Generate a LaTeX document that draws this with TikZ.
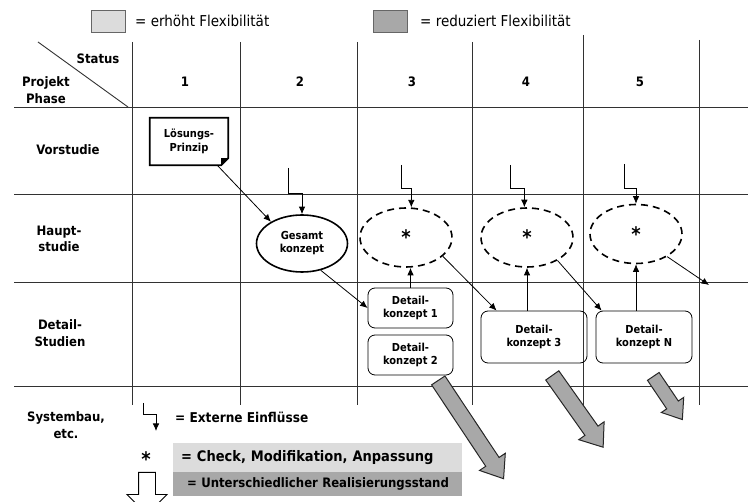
\documentclass[tikz,border=0pt]{standalone}
\usepackage{fontspec}
\setmainfont{DejaVu Sans Condensed}
\usepackage{tikz}
\usetikzlibrary{shapes.geometric, shapes.arrows, arrows.meta, calc}
\definecolor{flexlight}{RGB}{220,220,220}
\definecolor{flexdark}{RGB}{168,168,168}
\definecolor{gridline}{RGB}{50,50,50}

\begin{document}
\begin{tikzpicture}[x=1pt, y=1pt,
  gridl/.style={draw=gridline, line width=0.9pt},
  legbox/.style={draw=gray!80!black, line width=0.8pt, minimum width=34, minimum height=22, inner sep=0},
  legtxt/.style={font=\fontsize{15}{17}\selectfont, anchor=west, inner sep=0},
  rowlbl/.style={font=\fontsize{13}{16.5}\selectfont\bfseries, align=center},
  num/.style={font=\fontsize{13}{16}\selectfont\bfseries},
  lsg/.style={minimum width=78, minimum height=47, inner sep=0, font=\fontsize{11}{14}\selectfont\bfseries, align=center},
  gesamt/.style={ellipse, draw, line width=1.6pt, minimum width=91, minimum height=57, inner sep=0, font=\fontsize{11}{13}\selectfont\bfseries, align=center},
  chk/.style={ellipse, draw, line width=1.6pt, dash pattern=on 7pt off 5pt, minimum width=92, minimum height=59, inner sep=0, font=\fontsize{20}{20}\selectfont\bfseries},
  dk/.style={draw, rounded corners=7pt, line width=0.8pt, inner sep=0, font=\fontsize{11}{13}\selectfont\bfseries, align=center},
  arr/.style={-{Latex[length=7.5pt,width=6.5pt]}, line width=0.8pt},
  bigarr/.style={single arrow, draw=black!85, fill=flexdark, line width=1pt, minimum width=30, inner xsep=0, inner ysep=7.5, single arrow head extend=7.5, single arrow tip angle=75, anchor=tail},
  keybox/.style={minimum width=289, inner ysep=0, anchor=north west, font=\fontsize{13}{15}\selectfont\bfseries, text width=273, align=left}
]
\useasboundingbox (0,0) rectangle (748,-502);

% Legend top
\node[legbox, fill=flexlight] (LB1) at (108,-21) {};
\node[legtxt] (LT1) at (135,-21) {= erhöht Flexibilität};
\node[legbox, fill=flexdark] (LB2) at (390,-21) {};
\node[legtxt] (LT2) at (420,-21) {= reduziert Flexibilität};

% Grid
\foreach \gx/\gt in {132/42, 240/42, 357/42, 472/42, 583/35, 699/40}
  \draw[gridl] (\gx,-\gt) -- (\gx,-405);
\foreach \gy in {107, 194, 282, 386}
  \draw[gridl] (14,-\gy) -- (748,-\gy);
\draw[gridl] (38,-42) -- (128,-107);

% Header
\node[num] (ST) at (98,-59) {Status};
\node[rowlbl] (PP) at (46,-90) {Projekt\\Phase};
\foreach \n/\cx in {1/185, 2/300, 3/412, 4/526, 5/640}
  \node[num] (N\n) at (\cx,-82) {\n};

% Row labels
\node[rowlbl] (RV) at (68,-150) {Vorstudie};
\node[rowlbl] (RH) at (59,-239) {Haupt-\\studie};
\node[rowlbl] (RD) at (60,-333) {Detail-\\Studien};
\node[rowlbl] (RS) at (66,-425) {Systembau,\\etc.};

% Concepts
\node[lsg] (LP) at (189,-141.5) {Lösungs-\\Prinzip};
\draw[line width=1.8pt] (LP.north west) -- (LP.north east) -- ($(LP.south east)+(0,7)$)
  -- ($(LP.south east)+(-7,0)$) -- (LP.south west) -- cycle;
\fill ($(LP.south east)+(0,7)$) -- ($(LP.south east)+(-7,0)$) -- ($(LP.south east)+(-7,7)$) -- cycle;
\node[gesamt] (GK) at (302,-243.5) {Gesamt\\konzept};
\node[chk] (D1) at (406,-237.5) {*};
\node[chk] (D2) at (527,-237.5) {*};
\node[chk] (D3) at (636,-234) {*};
\node[dk, minimum width=85, minimum height=40] (DK1) at (410.5,-308) {Detail-\\konzept 1};
\node[dk, minimum width=85, minimum height=40] (DK2) at (410.5,-355) {Detail-\\konzept 2};
\node[dk, minimum width=106, minimum height=52] (DK3) at (534,-337) {Detail-\\konzept 3};
\node[dk, minimum width=96, minimum height=52] (DKN) at (644,-337) {Detail-\\konzept N};

% External influences
\coordinate (X1) at (288,-168);
\coordinate (X2) at (401,-165);
\coordinate (X3) at (510,-165);
\coordinate (X4) at (624,-164);
\draw[arr] (X1) -- ++(0,-25) -| (GK.north);
\draw[arr] (X2) -- ++(0,-23) -| (D1.80);
\draw[arr] (X3) -- ++(0,-23) -| (D2.95);
\draw[arr] (X4) -- ++(0,-24) -| (D3.north);

% Flow
\coordinate (OUT) at (709,-285);
\draw[arr] ($(LP.south east)+(-11,0)$) -- (GK.145);
\draw[arr] (GK.-55) -- (DK1.west);
\draw[arr] (DK1.north) -- (DK1.north |- D1.south);
\draw[arr] (D1.-27) -- ($(DK3.north west)+(16,0)$);
\draw[arr] (D2.south |- DK3.north) -- (D2.south);
\draw[arr] (D2.-37) -- ($(DKN.north west)+(6,0)$);
\draw[arr] (D3.south |- DKN.north) -- (D3.south);
\draw[arr] (D3.-36) -- (OUT);

% Realisation arrows
\node[bigarr, minimum height=118, rotate=-56.4] (BA1) at (438,-380) {};
\node[bigarr, minimum height=88, rotate=-54.7] (BA2) at (552,-375) {};
\node[bigarr, minimum height=52, minimum width=27, inner ysep=6.5, single arrow head extend=6.5, rotate=-56] (BA3) at (653,-376) {};

% Legend bottom
\coordinate (LE1) at (143,-403);
\coordinate (LE2) at (156,-431);
\draw[arr] (LE1) -- ++(0,-11) -| (LE2);
\node[legtxt, font=\fontsize{13.5}{15}\selectfont\bfseries] (KE) at (175,-417) {= Externe Einflüsse};
\node[num, font=\fontsize{20}{20}\selectfont\bfseries] (KS) at (146,-459) {*};
\node[keybox, fill=flexlight, inner xsep=8, minimum height=29, font=\fontsize{14.5}{16}\selectfont\bfseries] (KC) at (173,-443) {= Check, Modifikation, Anpassung};
\node[keybox, fill=flexdark, inner xsep=8, minimum height=24] (KR) at (173,-472) {\hspace{6pt}= Unterschiedlicher Realisierungsstand};
\begin{scope}
  \clip (0,0) rectangle (748,-502);
  \node[single arrow, draw, fill=white, line width=0.9pt, minimum width=39, inner xsep=0, inner ysep=8, single arrow head extend=11.5, minimum height=42, anchor=tail, rotate=-90] (KA) at (147,-472) {};
\end{scope}

\end{tikzpicture}
\end{document}
